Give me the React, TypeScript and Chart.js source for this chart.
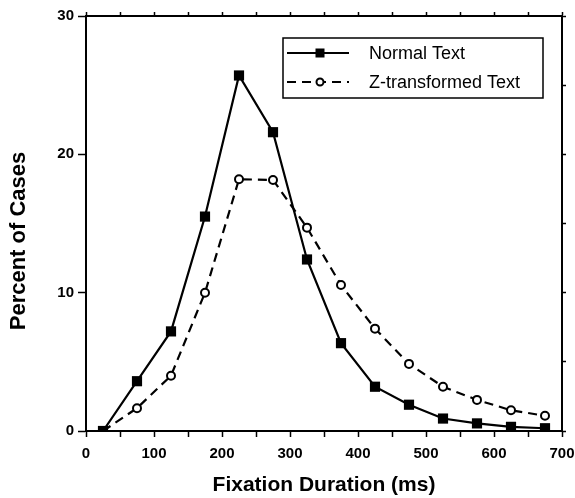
import React, { useEffect, useRef } from "react";
import { Chart, registerables } from "chart.js";

Chart.register(...registerables);

const durations = [25, 75, 125, 175, 225, 275, 325, 375, 425, 475, 525, 575, 625, 675];
const normalText = [0, 3.6, 7.2, 15.5, 25.7, 21.6, 12.4, 6.35, 3.2, 1.9, 0.9, 0.55, 0.3, 0.2];
const zTransformed = [0, 1.65, 4.0, 10.0, 18.2, 18.15, 14.7, 10.55, 7.4, 4.85, 3.2, 2.25, 1.5, 1.1];
const seriesLabels = ["Normal Text", "Z-transformed Text"];
const xTitle = "Fixation Duration (ms)";
const yTitle = "Percent of Cases";

const FONT = "'Liberation Sans', Arial, Helvetica, sans-serif";

const legendPlugin = {
  id: "insideLegend",
  afterDraw(chart: any) {
    const { ctx, chartArea } = chart;
    ctx.save();
    // y-axis title
    ctx.font = `bold 22px ${FONT}`;
    ctx.fillStyle = "#000";
    ctx.textAlign = "center";
    ctx.textBaseline = "middle";
    ctx.translate(19, 241);
    ctx.rotate(-Math.PI / 2);
    ctx.fillText(yTitle, 0, 0);
    ctx.restore();

    ctx.save();
    const left = chartArea.left + 197;
    const top = chartArea.top + 22;
    const right = chartArea.right - 19;
    const bottom = top + 60;
    ctx.strokeStyle = "#000";
    ctx.lineWidth = 1.5;
    ctx.strokeRect(left, top, right - left, bottom - top);
    const rows = [top + 15, top + 44];
    chart.data.datasets.forEach((ds: any, i: number) => {
      const y = rows[i];
      ctx.save();
      ctx.strokeStyle = "#000";
      ctx.lineWidth = 2;
      ctx.setLineDash(ds.borderDash || []);
      ctx.beginPath();
      ctx.moveTo(left + 4, y);
      ctx.lineTo(left + 66, y);
      ctx.stroke();
      ctx.setLineDash([]);
      const mx = left + 37;
      if (ds.pointStyle === "rect") {
        ctx.fillStyle = "#000";
        ctx.fillRect(mx - 4.5, y - 4.5, 9, 9);
      } else {
        ctx.fillStyle = "#fff";
        ctx.beginPath();
        ctx.arc(mx, y, 3.5, 0, Math.PI * 2);
        ctx.fill();
        ctx.stroke();
      }
      ctx.restore();
      ctx.fillStyle = "#000";
      ctx.font = `18px ${FONT}`;
      ctx.textAlign = "left";
      ctx.textBaseline = "middle";
      ctx.fillText(ds.label, left + 86, y + 1);
    });
    ctx.restore();
  },
};

export default function App() {
  const ref = useRef<HTMLCanvasElement | null>(null);
  useEffect(() => {
    if (!ref.current) return;
    const tickFont = { family: FONT, size: 15, weight: "bold" as const };
    const chart = new Chart(ref.current, {
      type: "line",
      data: {
        datasets: [
          {
            label: seriesLabels[0],
            data: durations.map((x, i) => ({ x, y: normalText[i] })),
            borderColor: "#000",
            backgroundColor: "#000",
            borderWidth: 2.2,
            pointStyle: "rect",
            pointRadius: 7.2,
            pointBackgroundColor: "#000",
            pointBorderWidth: 0,
            tension: 0,
            order: 1,
          },
          {
            label: seriesLabels[1],
            data: durations.map((x, i) => ({ x, y: zTransformed[i] })),
            borderColor: "#000",
            backgroundColor: "#fff",
            borderWidth: 2.2,
            borderDash: [9, 6],
            pointStyle: "circle",
            pointRadius: 4,
            pointBorderWidth: 2,
            pointBackgroundColor: "#fff",
            pointBorderColor: "#000",
            tension: 0,
            order: 2,
          },
        ],
      },
      options: {
        animation: false,
        responsive: false,
        layout: { padding: 0 },
        plugins: { legend: { display: false }, tooltip: { enabled: false } },
        scales: {
          x: {
            type: "linear",
            position: "bottom",
            min: 0,
            max: 700,
            afterFit: (s: any) => { s.height = 67; s.paddingLeft = 0; s.paddingRight = 0; },
            ticks: {
              stepSize: 50,
              color: "#000",
              font: tickFont,
              padding: 8,
              maxRotation: 0,
              callback: (v: any) => (Number(v) % 100 === 0 ? String(v) : ""),
            },
            grid: { drawOnChartArea: false, drawTicks: true, tickLength: 6, tickColor: "#000", tickWidth: 1.5 },
            border: { display: true, color: "#000", width: 2 },
            title: { display: true, text: xTitle, color: "#000", font: { family: FONT, size: 21, weight: "bold" }, padding: { top: 0, bottom: 0 } },
          },
          x2: {
            type: "linear",
            position: "top",
            min: 0,
            max: 700,
            afterFit: (s: any) => { s.height = 16; s.paddingLeft = 0; s.paddingRight = 0; },
            ticks: { stepSize: 50, display: false },
            grid: { drawOnChartArea: false, drawTicks: true, tickLength: 4, tickColor: "#000", tickWidth: 1.5 },
            border: { display: true, color: "#000", width: 2 },
          },
          y: {
            type: "linear",
            position: "left",
            min: 0,
            max: 30,
            afterFit: (s: any) => { s.width = 86; s.paddingTop = 0; s.paddingBottom = 0; },
            ticks: { stepSize: 10, color: "#000", font: tickFont, padding: 4 },
            grid: { drawOnChartArea: false, drawTicks: true, tickLength: 8, tickColor: "#000", tickWidth: 1.5 },
            border: { display: true, color: "#000", width: 2 },
          },
          y2: {
            type: "linear",
            position: "right",
            min: 0,
            max: 30,
            afterFit: (s: any) => { s.width = 13; s.paddingTop = 0; s.paddingBottom = 0; },
            ticks: { stepSize: 5, display: false },
            grid: { drawOnChartArea: false, drawTicks: true, tickLength: 4, tickColor: "#000", tickWidth: 1.5 },
            border: { display: true, color: "#000", width: 2 },
          },
        },
      },
      plugins: [legendPlugin],
    });
    return () => chart.destroy();
  }, []);
  return (
    <div style={{ position: "absolute", left: 0, top: 0, width: 575, height: 498, background: "#fff" }}>
      <canvas ref={ref} width={575} height={498} />
    </div>
  );
}
